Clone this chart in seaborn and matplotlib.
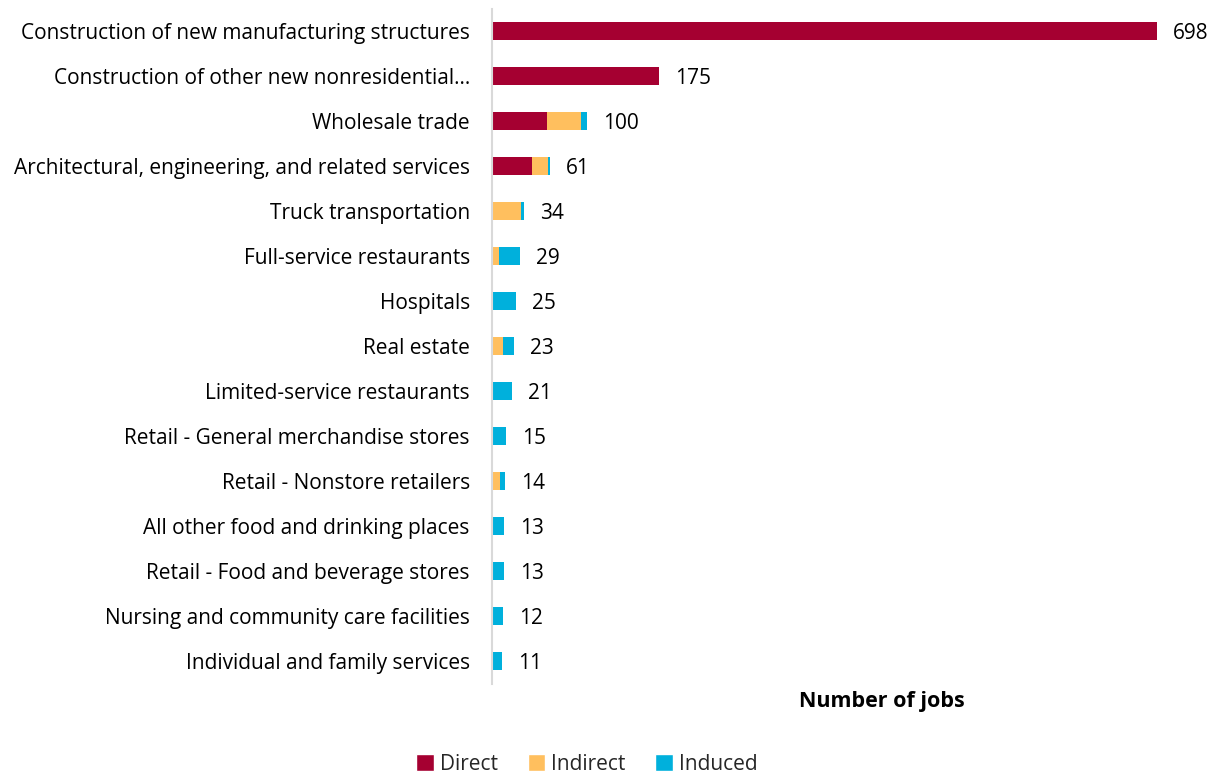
import matplotlib
matplotlib.use("Agg")
import matplotlib.pyplot as plt
from matplotlib.patches import Patch
import seaborn as sns
import pandas as pd
import numpy as np

categories = [
    "Construction of new manufacturing structures",
    "Construction of other new nonresidential\u2026",
    "Wholesale trade",
    "Architectural, engineering, and related services",
    "Truck transportation",
    "Full-service restaurants",
    "Hospitals",
    "Real estate",
    "Limited-service restaurants",
    "Retail - General merchandise stores",
    "Retail - Nonstore retailers",
    "All other food and drinking places",
    "Retail - Food and beverage stores",
    "Nursing and community care facilities",
    "Individual and family services",
]
direct   = [698, 175, 58, 42, 0, 0, 0, 0, 0, 0, 0, 0, 0, 0, 0]
indirect = [0, 0, 35, 17, 30.5, 7, 0, 11.5, 1.5, 1, 8, 0, 0, 0, 0]
induced  = [0, 0, 7, 2, 3.5, 22, 25, 11.5, 19.5, 14, 6, 13, 13, 12, 11]
totals   = [698, 175, 100, 61, 34, 29, 25, 23, 21, 15, 14, 13, 13, 12, 11]

c_direct = "#A50031"
c_indirect = "#FFBF5E"
c_induced = "#00B0DC"

df = pd.DataFrame({
    "cat": categories,
    "d": direct,
    "di": np.array(direct) + np.array(indirect),
    "dii": np.array(direct) + np.array(indirect) + np.array(induced),
})

sns.set_style("white")
plt.rcParams["font.family"] = ["Open Sans", "DejaVu Sans"]

fig = plt.figure(figsize=(12.22, 7.75), dpi=100)
ax = fig.add_axes([492/1222, 1-683.5/775, (1159-492)/1222, (683.5-8.5)/775])

w = 0.42
for col, c in [("dii", c_induced), ("di", c_indirect), ("d", c_direct)]:
    sns.barplot(data=df, y="cat", x=col, color=c, orient="h", width=w, ax=ax,
                saturation=1, linewidth=0, edgecolor="none")

ax.set_xlim(0, 700)
ax.set_ylim(14.5, -0.5)
ax.set_xlabel("")
ax.set_ylabel("")
ax.set_xticks([])
ax.tick_params(axis="y", length=0, pad=16, labelsize=15, labelcolor="#000000")
for s in ["top", "right", "bottom"]:
    ax.spines[s].set_visible(False)
ax.spines["left"].set_color("#D9D9D9")
ax.spines["left"].set_linewidth(1.5)

for i, (t, s) in enumerate(zip(totals, df["dii"])):
    ax.text(s + 16/0.953, i, f"{t}", va="center_baseline", ha="left", fontsize=15,
            color="#000000", clip_on=False)

fig.text(882/1222, 1-701/775, "Number of jobs", ha="center", va="center",
         fontsize=15.5, fontweight="bold", color="#000000")

handles = [Patch(facecolor=c_direct, label="Direct"),
           Patch(facecolor=c_indirect, label="Indirect"),
           Patch(facecolor=c_induced, label="Induced")]
fig.legend(handles=handles, loc="center", bbox_to_anchor=(587/1222, 1-764/775),
           ncol=3, frameon=False, fontsize=15, handlelength=0.85, handleheight=0.85,
           handletextpad=0.3, columnspacing=1.4, borderaxespad=0)

fig.savefig("out.png", dpi=100)
